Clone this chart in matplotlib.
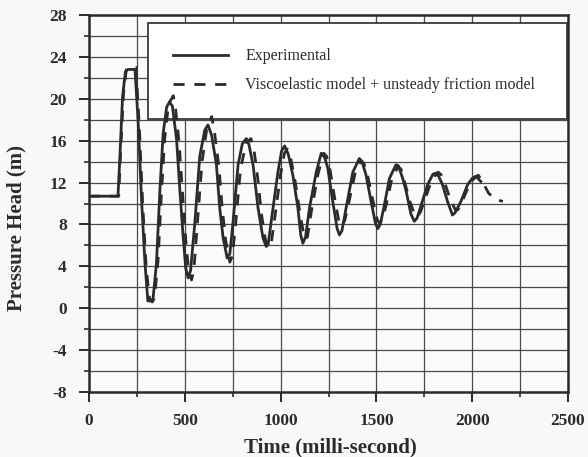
import matplotlib.pyplot as plt
from matplotlib.ticker import MultipleLocator

plt.rcParams['axes.unicode_minus'] = False

# Experimental pressure head trace (time in ms, head in m)
exp_t = [0, 151, 160, 175, 190, 203, 240, 257, 274, 292, 307, 333, 352, 370, 387, 405, 420, 435,
         457, 474, 491, 505, 517, 530, 552, 578, 604, 621, 640, 665, 682, 700, 721, 735, 752, 778,
         800, 821, 835, 856, 882, 908, 925, 935, 951, 986, 1005, 1021, 1040, 1064, 1090, 1105,
         1116, 1130, 1151, 1186, 1212, 1228, 1246, 1272, 1295, 1307, 1320, 1342, 1377, 1411,
         1425, 1446, 1472, 1495, 1507, 1520, 1542, 1568, 1602, 1615, 1637, 1655, 1680, 1698,
         1712, 1733, 1767, 1795, 1811, 1825, 1845, 1871, 1897, 1910, 1941, 1976, 2000, 2019, 2045]
exp_h = [10.7, 10.7, 14.0, 20.2, 22.6, 22.8, 22.8, 17.6, 10.4, 4.3, 0.7, 0.7, 4.3, 11.3, 16.7, 19.2, 19.7, 19.3,
         16.1, 11.3, 6.9, 3.8, 2.9, 3.6, 8.1, 14.5, 17.0, 17.5, 16.5, 13.7, 9.6, 6.7, 4.8, 5.2, 8.3, 13.7,
         15.7, 16.2, 15.6, 13.7, 9.6, 6.7, 5.9, 6.1, 8.3, 13.0, 15.0, 15.5, 14.7, 12.7, 9.6, 7.0,
         6.2, 6.8, 9.6, 13.0, 14.8, 14.5, 13.4, 10.2, 7.6, 7.0, 7.4, 9.6, 13.0, 14.3,
         14.0, 12.7, 10.2, 8.1, 7.6, 8.0, 9.9, 12.4, 13.7, 13.6, 12.4, 11.2, 9.0, 8.3,
         8.6, 9.8, 11.8, 12.8, 12.9, 12.6, 11.8, 10.2, 8.9, 9.1, 10.2, 11.8, 12.4, 12.6, 12.1]

# Viscoelastic model + unsteady friction model
mod_t = [0, 155, 165, 180, 195, 210, 245, 262, 280, 298, 315, 330, 342, 360, 378, 395, 415, 440,
         452, 470, 488, 505, 520, 535, 547, 565, 590, 615, 640, 655, 678, 695, 713, 735, 748, 765,
         790, 820, 845, 862, 880, 900, 920, 938, 952, 970, 1000, 1020, 1035, 1052, 1075, 1100,
         1125, 1140, 1160, 1195, 1225, 1240, 1258, 1285, 1305, 1318, 1335, 1355, 1390, 1420,
         1435, 1455, 1485, 1505, 1518, 1535, 1555, 1580, 1612, 1628, 1648, 1675, 1700, 1712,
         1730, 1755, 1790, 1822, 1840, 1860, 1885, 1912, 1925, 1950, 1985, 2015, 2032, 2050,
         2085, 2120, 2160]
mod_h = [10.7, 10.7, 15.0, 20.5, 22.8, 23.0, 23.0, 17.5, 10.0, 4.0, 1.0, 0.6, 1.0, 4.5, 11.0, 16.2, 19.5, 20.3,
         19.0, 15.8, 11.0, 6.5, 3.5, 2.7, 3.6, 8.0, 14.0, 17.2, 18.3, 16.8, 13.5, 9.6, 6.5, 4.4, 5.0, 8.0,
         13.2, 15.8, 16.2, 15.0, 12.5, 9.0, 6.6, 5.8, 6.3, 8.7, 12.8, 14.8, 15.2, 14.4, 12.2, 9.2,
         6.6, 6.8, 9.2, 12.8, 14.8, 14.5, 13.2, 10.2, 8.2, 7.8, 8.4, 10.0, 13.0, 14.1,
         13.8, 12.6, 10.0, 8.4, 8.1, 8.7, 10.2, 12.3, 13.5, 13.3, 12.0, 10.2, 8.9, 8.7,
         9.2, 10.5, 12.3, 13.0, 12.7, 11.8, 10.4, 9.4, 9.4, 10.3, 11.8, 12.5, 12.7, 12.2,
         11.0, 10.4, 10.2]

ink = '#2b2b2b'
serif = ['Liberation Serif', 'DejaVu Serif']

fig = plt.figure(figsize=(5.88, 4.57), dpi=100, facecolor='#f8f8f8')
ax = fig.add_axes([0.1514, 0.1422, 0.8146, 0.825])
ax.set_facecolor('#fbfbfb')

ax.plot(exp_t, exp_h, color=ink, lw=2.0, label='Experimental', zorder=3)
ax.plot(mod_t, mod_h, color=ink, lw=2.0, dashes=(4, 3.5),
        label='Viscoelastic model + unsteady friction model', zorder=4)

ax.set_xlim(0, 2500)
ax.set_ylim(-8, 28)
ax.xaxis.set_major_locator(MultipleLocator(500))
ax.xaxis.set_minor_locator(MultipleLocator(250))
ax.yaxis.set_major_locator(MultipleLocator(4))
ax.yaxis.set_minor_locator(MultipleLocator(2))
ax.grid(True, which='both', color='#4a4a4a', lw=0.9)
ax.set_axisbelow(True)

ax.tick_params(which='major', direction='out', length=7, width=1.4, color=ink)
ax.tick_params(which='minor', direction='out', length=3.5, width=1.2, color=ink)
ax.tick_params(axis='x', which='major', pad=8)
ax.tick_params(axis='y', which='major', pad=9)
for lab in ax.get_xticklabels() + ax.get_yticklabels():
    lab.set_family(serif)
    lab.set_fontweight('bold')
    lab.set_fontsize(12.5)
    lab.set_color(ink)
for s in ax.spines.values():
    s.set_linewidth(1.8)
    s.set_color(ink)

ax.set_xlabel('Time (milli-second)', family=serif, fontweight='bold', fontsize=15, color=ink)
ax.set_ylabel('Pressure Head (m)', family=serif, fontweight='bold', fontsize=15, color=ink)
ax.xaxis.set_label_coords(0.503, -0.146)
ax.xaxis.label.set_va('center')
ax.yaxis.set_label_coords(-0.152, 0.435)
ax.yaxis.label.set_va('center')

leg = ax.legend(loc='upper left', bbox_to_anchor=(0.123, 0.979, 0.875, 0.0), mode='expand',
                prop={'family': serif, 'size': 11.5}, frameon=True, fancybox=False,
                handlelength=3.4, handletextpad=1.1, borderpad=1.6, labelspacing=0.8,
                borderaxespad=0)
leg.get_frame().set_edgecolor(ink)
leg.get_frame().set_linewidth(1.2)
leg.get_frame().set_facecolor('white')
leg.get_frame().set_alpha(1)
leg.set_zorder(2.5)  # curves pass over the legend box as in the scan
for t in leg.get_texts():
    t.set_color(ink)

fig.savefig('out.png', dpi=100, facecolor=fig.get_facecolor())
